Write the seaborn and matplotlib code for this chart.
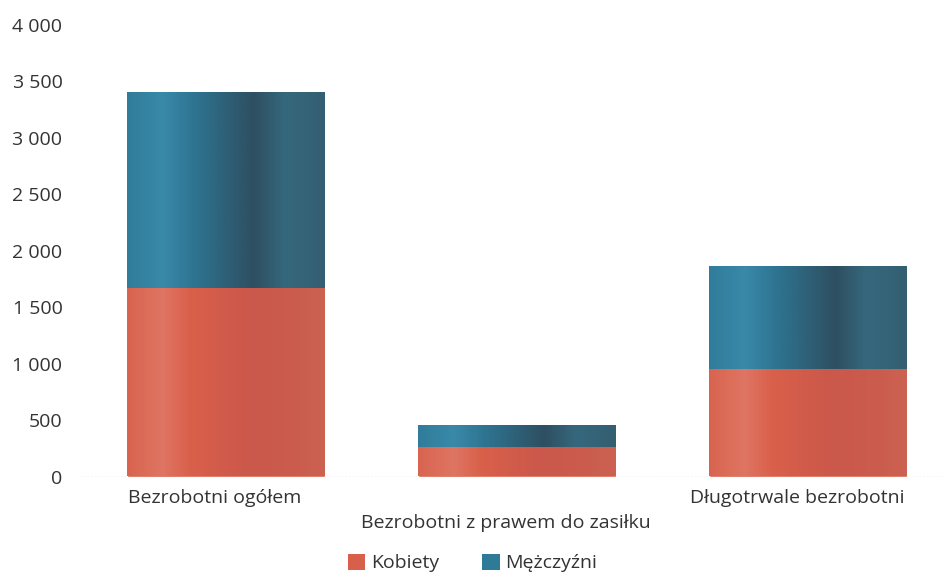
import numpy as np
import pandas as pd
import matplotlib
matplotlib.use("Agg")
import matplotlib.pyplot as plt
import matplotlib.transforms as mtransforms
import seaborn as sns
from matplotlib.colors import LinearSegmentedColormap
from matplotlib.patches import Patch
from matplotlib.ticker import FuncFormatter

# data
categories = ["Bezrobotni ogółem", "Bezrobotni z prawem do zasiłku", "Długotrwale bezrobotni"]
kobiety = [1660, 250, 940]
mezczyzni = [1740, 197, 920]
series = ["Kobiety", "Mężczyźni"]

df = pd.DataFrame({"kategoria": categories, "Kobiety": kobiety, "Mężczyźni": mezczyzni})
df["razem"] = df["Kobiety"] + df["Mężczyźni"]

red = "#d8604b"
teal = "#2f7a96"

# cylinder-like shading across each bar
red_cmap = LinearSegmentedColormap.from_list("r", [
    (0.0, "#d8644f"), (0.18, "#df7563"), (0.32, "#d9604a"),
    (0.62, "#cb584b"), (0.85, "#ca5c4e"), (1.0, "#cc6252")])
teal_cmap = LinearSegmentedColormap.from_list("t", [
    (0.0, "#307c9a"), (0.18, "#3a89a9"), (0.34, "#2e7491"),
    (0.64, "#2e4f61"), (0.8, "#36687d"), (1.0, "#345e71")])

sns.set_style("white")
plt.rcParams["font.family"] = ["Open Sans", "DejaVu Sans"]

fig = plt.figure(figsize=(9.45, 5.78), dpi=100)
ax = fig.add_axes([80.5 / 945, 101.5 / 578, 873 / 945, 451.5 / 578])

# total first, then women on top -> stacked look
sns.barplot(data=df, x="kategoria", y="razem", color=teal, width=0.68,
            saturation=1, ax=ax, zorder=2)
sns.barplot(data=df, x="kategoria", y="Kobiety", color=red, width=0.68,
            saturation=1, ax=ax, zorder=3)

grad = np.linspace(0, 1, 256).reshape(1, -1)
for i, rect in enumerate(ax.patches):
    cmap = teal_cmap if i < len(categories) else red_cmap
    x, y = rect.get_x(), rect.get_y()
    w, h = rect.get_width(), rect.get_height()
    ax.imshow(grad, cmap=cmap, aspect="auto", extent=[x, x + w, y, y + h],
              zorder=rect.get_zorder() + 0.5, interpolation="bicubic")

ax.set_xlim(-0.5, 2.5)
ax.set_ylim(0, 4000)
ax.set_yticks(range(0, 4001, 500))
ax.yaxis.set_major_formatter(FuncFormatter(lambda v, p: f"{int(v):,}".replace(",", " ")))
ax.axhline(0, color="#c5cad3", ls=":", lw=1, zorder=1)

for s in ax.spines.values():
    s.set_visible(False)
ax.tick_params(axis="both", length=0, labelsize=14, colors="#333333")
ax.tick_params(axis="y", pad=13)
ax.set_xlabel("")
ax.set_ylabel("")
ax.set_xticks(range(len(categories)))
ax.set_xticklabels(categories)
ticks = ax.xaxis.get_major_ticks()
for j, t in enumerate(ticks):
    t.set_pad(9 if j != 1 else 27)
# labels sit a little left of the bar centres in the original
shift = mtransforms.ScaledTranslation(-11 / 100, 0, fig.dpi_scale_trans)
for lab in ax.get_xticklabels():
    lab.set_transform(lab.get_transform() + shift)

handles = [Patch(facecolor=red, edgecolor="none"), Patch(facecolor=teal, edgecolor="none")]
fig.legend(handles, series, loc="center", bbox_to_anchor=(0.5, 1 - 563 / 578),
           ncol=2, frameon=False, fontsize=14, handlelength=0.9, handleheight=0.9,
           handletextpad=0.3, columnspacing=2.2, labelcolor="#333333")

fig.savefig("out.png", dpi=100)
